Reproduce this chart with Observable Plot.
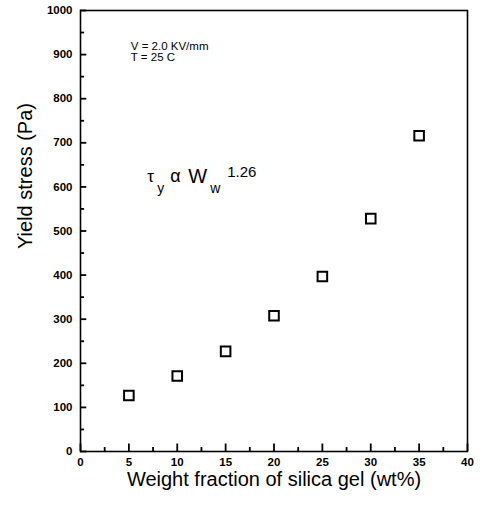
<!DOCTYPE html>
<html>
<head>
<meta charset="utf-8">
<script src="https://cdn.jsdelivr.net/npm/d3@7"></script>
<script src="https://cdn.jsdelivr.net/npm/@observablehq/plot@0.6"></script>
<style>
  body { margin: 0; background: #fff; }
  #chart svg { display: block; }
</style>
</head>
<body>
<div id="chart"></div>
<script>
// Yield stress of the ER fluid versus silica gel content
const silicaWt = [5, 10, 15, 20, 25, 30, 35];
const yieldStress = [127, 171, 227, 308, 397, 528, 716];

// Axis ticks
const xMajorTicks = [0, 5, 10, 15, 20, 25, 30, 35, 40];
const xMinorTicks = [2.5, 7.5, 12.5, 17.5, 22.5, 27.5, 32.5, 37.5];
const yMajorTicks = [0, 100, 200, 300, 400, 500, 600, 700, 800, 900, 1000];
const yMinorTicks = [50, 150, 250, 350, 450, 550, 650, 750, 850, 950];

// Text
const xTitle = "Weight fraction of silica gel (wt%)";
const yTitle = "Yield stress (Pa)";
const conditions = ["V = 2.0 KV/mm", "T = 25 C"];
const powerLaw = [
  {text: "τ", size: 17, dx: 0, dy: 0},
  {text: "y", size: 14, dx: 10, dy: 11},
  {text: "α", size: 18, dx: 23, dy: 0},
  {text: "W", size: 20, dx: 41, dy: 1},
  {text: "w", size: 14, dx: 63, dy: 11},
  {text: "1.26", size: 15, dx: 80, dy: -5}
];

const font = "'Liberation Sans', Arial, Helvetica, sans-serif";

const table = silicaWt.map((w, i) => ({w, stress: yieldStress[i]}));

const chart = Plot.plot({
  width: 484,
  height: 508,
  marginLeft: 80,
  marginRight: 17,
  marginTop: 10,
  marginBottom: 57,
  style: {fontFamily: font},
  x: {domain: [0, 40]},
  y: {domain: [0, 1000]},
  marks: [
    Plot.axisX(xMajorTicks, {tickSize: 0, tickPadding: 6, fontSize: 11.5, fontWeight: "bold", fill: "black", label: null, tickFormat: d => String(d)}),
    Plot.axisY(yMajorTicks, {tickSize: 0, tickPadding: 8, fontSize: 11.5, fontWeight: "bold", fill: "black", label: null, tickFormat: d => String(d)}),
    // axis titles
    Plot.text([xTitle], {frameAnchor: "bottom", dy: 34, fontSize: 20, fill: "black"}),
    Plot.text([yTitle], {frameAnchor: "left", dx: -55, dy: 18, rotate: -90, fontSize: 20, fill: "black"}),
    // measurement conditions
    Plot.text([conditions.join("\n")], {x: 5.2, y: 927, textAnchor: "start", lineAnchor: "top", lineHeight: 0.92, fontSize: 11.5, fill: "black"}),
    // power-law relation
    ...powerLaw.map(p => Plot.text([p.text], {x: 6.9, y: 610, dx: p.dx, dy: p.dy, textAnchor: "start", lineAnchor: "bottom", fontSize: p.size, fill: "black"})),
    // measured yield stress
    Plot.dot(table, {x: "w", y: "stress", symbol: "square", r: 5.4, stroke: "black", strokeWidth: 2, fill: "white"}),
    // inward tick marks along the bottom and left edges (lengths in data units)
    Plot.ruleX(xMajorTicks, {x: d => d, y1: 0, y2: 17, stroke: "black", strokeWidth: 1.8}),
    Plot.ruleX(xMinorTicks, {x: d => d, y1: 0, y2: 9, stroke: "black", strokeWidth: 1.8}),
    Plot.ruleY(yMajorTicks, {y: d => d, x1: 0, x2: 0.65, stroke: "black", strokeWidth: 1.8}),
    Plot.ruleY(yMinorTicks, {y: d => d, x1: 0, x2: 0.42, stroke: "black", strokeWidth: 1.8}),
    Plot.frame({stroke: "black", strokeWidth: 1.6})
  ]
});

document.getElementById("chart").append(chart);
</script>
</body>
</html>
